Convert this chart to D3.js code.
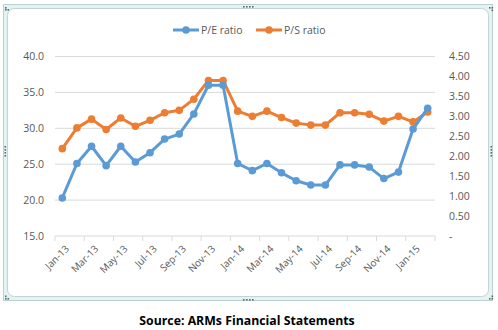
<!DOCTYPE html>
<html><head><meta charset="utf-8">
<script src="https://cdn.jsdelivr.net/npm/d3@7"></script>
<style>body{margin:0;background:#fff}svg{display:block}</style>
</head><body>
<script>
const months = ["Jan-13","Feb-13","Mar-13","Apr-13","May-13","Jun-13","Jul-13","Aug-13","Sep-13","Oct-13","Nov-13","Dec-13",
"Jan-14","Feb-14","Mar-14","Apr-14","May-14","Jun-14","Jul-14","Aug-14","Sep-14","Oct-14","Nov-14","Dec-14","Jan-15","Feb-15"];
const peRatio = [20.3,25.1,27.5,24.8,27.5,25.3,26.6,28.5,29.2,32.0,36.0,36.0,25.1,24.1,25.1,23.8,22.7,22.1,22.1,24.9,24.9,24.6,23.0,23.9,29.9,32.8];
const psRatio = [2.19,2.71,2.93,2.67,2.96,2.75,2.90,3.09,3.15,3.43,3.90,3.90,3.13,3.00,3.13,2.97,2.83,2.78,2.78,3.09,3.09,3.05,2.88,3.00,2.86,3.11];
const leftTicks = [15,20,25,30,35,40];
const rightTicks = [0,0.5,1,1.5,2,2.5,3,3.5,4,4.5];
const seriesNames = ["P/E ratio","P/S ratio"];
const colors = ["#5b9bd5","#ed7d31"];

const W=498,H=330;
const svg=d3.select("body").append("svg").attr("width",W).attr("height",H);
const font="'Open Sans', 'Noto Sans', sans-serif";

// frame
svg.append("rect").attr("x",3.5).attr("y",4.5).attr("width",489).attr("height",296)
  .attr("fill","#e3f2f2").attr("stroke","#bccfd1");
svg.append("rect").attr("x",7.5).attr("y",8.5).attr("width",481).attr("height",288).attr("rx",7)
  .attr("fill","#fff").attr("stroke","#c3d2d4");
const dot=(x,y)=>svg.append("rect").attr("x",x).attr("y",y).attr("width",1.6).attr("height",1.6).attr("fill","#5d6b6e");
[[5,7],[7.5,9],[5,9]].forEach(d=>dot(d[0],d[1]));
[[489,7],[491.5,7],[491.5,9.5]].forEach(d=>dot(d[0],d[1]));
[[5,298],[7.5,298],[5,295.5]].forEach(d=>dot(d[0],d[1]));
[[489,298],[491.5,298],[491.5,295.5]].forEach(d=>dot(d[0],d[1]));
for(let i=0;i<4;i++){dot(243+i*3,6);dot(243+i*3,299);dot(4.5,146+i*3);dot(490.5,146+i*3);}

const x=d3.scaleBand().domain(months).range([55,435]).padding(0);
const yL=d3.scaleLinear().domain([15,40]).range([236,56.5]);
const yR=d3.scaleLinear().domain([0,4.5]).range([236,56.5]);

// gridlines
svg.append("g").selectAll("line").data(leftTicks.slice(1)).join("line")
  .attr("x1",55).attr("x2",435).attr("y1",d=>yL(d)).attr("y2",d=>yL(d))
  .attr("stroke","#d9d9d9").attr("stroke-width",1);

// left axis
const gL=svg.append("g").attr("transform","translate(55,0)")
  .call(d3.axisLeft(yL).tickValues(leftTicks).tickFormat(d3.format(".1f")).tickSize(0).tickPadding(11));
gL.select(".domain").remove();
gL.selectAll("text").attr("font-family",font).attr("font-size",10.5).attr("fill","#595959");

// right axis
const gR=svg.append("g").attr("transform","translate(435,0)")
  .call(d3.axisRight(yR).tickValues(rightTicks).tickFormat(d=>d===0?"-":d3.format(".2f")(d)).tickSize(0).tickPadding(14));
gR.select(".domain").remove();
gR.selectAll("text").attr("font-family",font).attr("font-size",10.5).attr("fill","#595959");

// x axis
const gX=svg.append("g").attr("transform","translate(0,236)");
gX.append("line").attr("x1",55).attr("x2",435).attr("stroke","#d9d9d9");
const tickPos=months.filter((d,i)=>i%2===0).map(d=>x(d)).concat([435]);
gX.selectAll("line.t").data(tickPos).join("line").attr("class","t")
  .attr("x1",d=>d).attr("x2",d=>d).attr("y1",0).attr("y2",5).attr("stroke","#d9d9d9");
gX.selectAll("text").data(months.filter((d,i)=>i%2===0)).join("text")
  .attr("transform",d=>`translate(${x(d)+x.bandwidth()/2+5},${11}) rotate(-45)`)
  .attr("text-anchor","end").attr("dy","0.35em")
  .attr("font-family",font).attr("font-size",10).attr("fill","#595959").text(d=>d);

// series
const series=[{vals:peRatio,y:yL},{vals:psRatio,y:yR}];
[1,0].forEach(k=>{
  const s=series[k];
  const line=d3.line().x((d,i)=>x(months[i])+x.bandwidth()/2).y(d=>s.y(d));
  svg.append("path").datum(s.vals).attr("d",line).attr("fill","none")
    .attr("stroke",colors[k]).attr("stroke-width",3).attr("stroke-linejoin","round");
  svg.append("g").selectAll("circle").data(s.vals).join("circle")
    .attr("cx",(d,i)=>x(months[i])+x.bandwidth()/2).attr("cy",d=>s.y(d)).attr("r",3.8)
    .attr("fill",colors[k]);
});

// legend
const lg=svg.append("g");
[[173,seriesNames[0],colors[0]],[256,seriesNames[1],colors[1]]].forEach(([lx,name,c])=>{
  lg.append("line").attr("x1",lx).attr("x2",lx+26).attr("y1",30).attr("y2",30).attr("stroke",c).attr("stroke-width",3);
  lg.append("circle").attr("cx",lx+13).attr("cy",30).attr("r",3.8).attr("fill",c);
  lg.append("text").attr("x",lx+28).attr("y",30).attr("dy","0.35em").attr("font-family",font)
    .attr("font-size",10.5).attr("fill","#595959").text(name);
});

// source
svg.append("text").attr("x",247).attr("y",325).attr("text-anchor","middle")
  .attr("font-family","'Open Sans', sans-serif").attr("font-weight","bold").attr("font-size",12.3)
  .attr("fill","#000").text("Source: ARMs Financial Statements");
</script>
</body></html>
